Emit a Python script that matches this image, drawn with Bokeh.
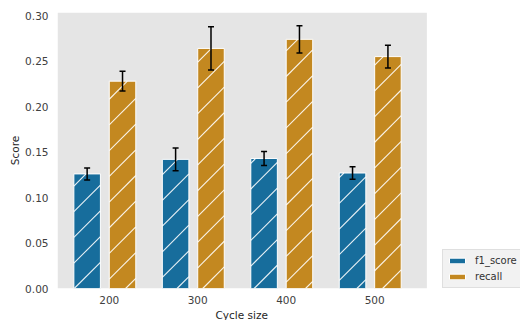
import numpy as np
from bokeh.plotting import figure
from bokeh.models import (ColumnDataSource, Range1d, FixedTicker, PrintfTickFormatter,
                          Legend, LegendItem, BoxAnnotation, Title)
from bokeh.embed import file_html
from bokeh.resources import INLINE

# ---- data ----
categories = ["200", "300", "400", "500"]
f1_score = [0.126, 0.142, 0.143, 0.127]
f1_err = [0.0066, 0.0125, 0.0077, 0.0070]
recall = [0.228, 0.264, 0.274, 0.255]
recall_err = [0.0108, 0.0237, 0.0149, 0.0125]
y_ticks = [0.00, 0.05, 0.10, 0.15, 0.20, 0.25, 0.30]

BLUE = "#176d9c"
GOLD = "#c38820"

W, H = 520, 320
B_LEFT, B_RIGHT, B_TOP, B_BOTTOM = 57, 0, 12, 32
X_LO, X_HI, X_END = -0.585, 3.59, 4.6485   # grey axes area ends at X_HI
Y_LO, Y_HI = 0.0, 0.3035
BAR_W = 0.3

idx = np.arange(len(categories))
src_f1 = ColumnDataSource(dict(
    x=idx - 0.25, top=f1_score,
    lower=np.array(f1_score) - np.array(f1_err),
    upper=np.array(f1_score) + np.array(f1_err)))
src_rc = ColumnDataSource(dict(
    x=idx + 0.15, top=recall,
    lower=np.array(recall) - np.array(recall_err),
    upper=np.array(recall) + np.array(recall_err)))


def hatch_segments(xs, tops, spacing=25.7, phase=-9.0):
    """45-degree '/' hatch lines clipped to each bar (computed in pixel space)."""
    kx = (W - B_LEFT - B_RIGHT) / (X_END - X_LO)
    ky = (H - B_TOP - B_BOTTOM) / (Y_HI - Y_LO)
    x0s, y0s, x1s, y1s = [], [], [], []
    for xc, t in zip(xs, tops):
        a = (xc - BAR_W / 2 - X_LO) * kx
        b = (xc + BAR_W / 2 - X_LO) * kx
        h = t * ky
        k0 = int(np.floor((a - h - phase) / spacing))
        k1 = int(np.ceil((b - phase) / spacing))
        for k in range(k0, k1 + 1):
            d = phase + k * spacing
            lo, hi = max(a, d), min(b, d + h)
            if hi - lo > 0.5:
                x0s.append(X_LO + lo / kx); y0s.append((lo - d) / ky)
                x1s.append(X_LO + hi / kx); y1s.append((hi - d) / ky)
    return dict(x0=x0s, y0=y0s, x1=x1s, y1=y1s)


p = figure(width=W, height=H, output_backend="svg", toolbar_location=None,
           x_range=Range1d(X_LO, X_END), y_range=Range1d(Y_LO, Y_HI),
           min_border_left=B_LEFT, min_border_right=B_RIGHT, min_border_top=B_TOP,
           min_border_bottom=B_BOTTOM)
p.background_fill_color = "white"
p.border_fill_color = "white"
p.outline_line_color = None
p.grid.grid_line_color = None

# grey axes background and white y-grid, limited to the axes area
p.add_layout(BoxAnnotation(left=X_LO, right=X_HI, fill_color="#e5e5e5",
                           fill_alpha=1, line_color=None, level="underlay"))
p.segment(x0=[X_LO] * len(y_ticks), x1=[X_HI] * len(y_ticks), y0=y_ticks, y1=y_ticks,
          line_color="white", line_width=1, level="underlay")

r1 = p.vbar(x="x", top="top", width=BAR_W, source=src_f1, fill_color=BLUE,
            line_color="white", line_width=1)
r2 = p.vbar(x="x", top="top", width=BAR_W, source=src_rc, fill_color=GOLD,
            line_color="white", line_width=1)

# hatching
for src in (src_f1, src_rc):
    seg = hatch_segments(src.data["x"], src.data["top"])
    p.segment(x0="x0", y0="y0", x1="x1", y1="y1", source=ColumnDataSource(seg),
              line_color="white", line_alpha=0.9, line_width=1.1)

# error bars
for src in (src_f1, src_rc):
    p.segment(x0="x", y0="lower", x1="x", y1="upper", source=src,
              line_color="black", line_width=1.5)
    p.scatter(x="x", y="upper", source=src, marker="dash", size=6,
              line_color="black", line_width=1.5)
    p.scatter(x="x", y="lower", source=src, marker="dash", size=6,
              line_color="black", line_width=1.5)

# axes
p.xaxis.ticker = FixedTicker(ticks=list(idx))
p.xaxis.major_label_overrides = {int(i): c for i, c in zip(idx, categories)}
p.yaxis.ticker = FixedTicker(ticks=y_ticks)
p.yaxis.formatter = PrintfTickFormatter(format="%.2f")
for ax in (p.xaxis[0], p.yaxis[0]):
    ax.axis_line_color = None
    ax.major_tick_line_color = None
    ax.minor_tick_line_color = None
    ax.major_tick_out = 0
    ax.major_tick_in = 0
    ax.major_label_text_font = "DejaVu Sans"
    ax.major_label_text_font_size = "10.5px"
    ax.major_label_text_color = "#404040"
    ax.axis_label_text_font = "DejaVu Sans"
    ax.axis_label_text_font_size = "10.5px"
    ax.axis_label_text_font_style = "normal"
    ax.axis_label_text_color = "#262626"
p.yaxis.axis_label = "Score"
p.xaxis.major_label_standoff = 7
p.yaxis.major_label_standoff = 9
p.yaxis.axis_label_standoff = 1

# x-axis label, centred under the grey axes area
xlabel = Title(text="Cycle size", align="left", offset=158, standoff=0,
               text_font="DejaVu Sans", text_font_size="10.5px",
               text_font_style="normal", text_color="#262626")
p.add_layout(xlabel, "below")

legend = Legend(items=[LegendItem(label="f1_score", renderers=[r1]),
                       LegendItem(label="recall", renderers=[r2])],
                location=(385, 0))
legend.background_fill_color = "#f2f2f2"
legend.background_fill_alpha = 1
legend.border_line_color = "#cccccc"
legend.border_line_width = 1
legend.label_text_font = "DejaVu Sans"
legend.label_text_font_size = "10px"
legend.label_text_color = "#333333"
legend.glyph_width = 20
legend.glyph_height = 7
legend.label_height = 13
legend.label_standoff = 8
legend.spacing = 3
legend.padding = 4
legend.margin = 0
p.add_layout(legend, "center")

open("out.html", "w").write(file_html(p, INLINE))
